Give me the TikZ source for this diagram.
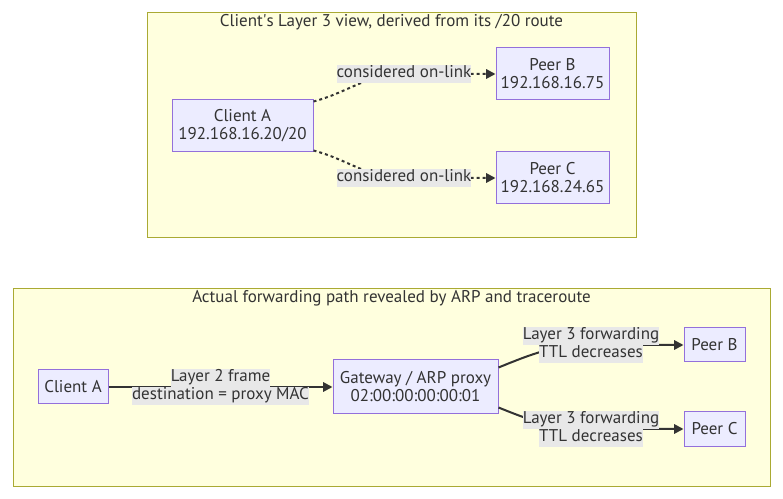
\documentclass[tikz,border=0pt]{standalone}
\usepackage{fontspec}
\setmainfont{PT Sans}
\usetikzlibrary{arrows.meta}

\definecolor{clusterfill}{HTML}{FFFFDE}
\definecolor{clusterline}{HTML}{AAAA33}
\definecolor{boxfill}{HTML}{ECECFF}
\definecolor{boxline}{HTML}{9370DB}
\definecolor{inktext}{HTML}{333333}
\definecolor{lblbg}{HTML}{E8E8E8}

\newcommand{\lblline}[1]{{\setlength{\fboxsep}{0pt}\colorbox{lblbg}{\strut #1}}}

\tikzset{
    hostbox/.style={draw=boxline, fill=boxfill, line width=0.75pt, inner sep=0pt,
        align=center, text=inktext},
    groupbox/.style={draw=clusterline, fill=clusterfill, line width=0.75pt},
    grouptitle/.style={text=inktext, anchor=center},
    edgelbl/.style={inner sep=0pt, align=center, text=inktext},
    fwd/.style={draw=inktext, line width=1.5pt, -{Triangle[length=7pt,width=7pt]}},
    onlink/.style={fwd, dash pattern=on 2.25pt off 2.25pt},
}

\begin{document}
\begin{tikzpicture}[x=0.75pt,y=-0.75pt,font=\fontsize{12.75}{13.5}\selectfont]
        \useasboundingbox (0,0) rectangle (783,499);
        %% what the client believes
        \draw[groupbox] (147,13) rectangle (636,238);
        \node[grouptitle] (viewtitle) at (391.5,22) {Client\textquotesingle s Layer 3 view, derived from its /20 route};
        \node[hostbox, minimum width=105.75pt, minimum height=39pt] (clientA) at (242.5,126) {Client A\\192.168.16.20/20};
        \node[hostbox, minimum width=84.75pt, minimum height=39pt] (peerB) at (552.5,74) {Peer B\\192.168.16.75};
        \node[hostbox, minimum width=84.75pt, minimum height=39pt] (peerC) at (552.5,178) {Peer C\\192.168.24.65};
        \coordinate (onB) at (404,74);
        \coordinate (onC) at (404,178);
        \draw[onlink] ([yshift=-1.5pt]clientA.north east) to[out=15,in=180] (onB) -- (peerB);
        \draw[onlink] ([yshift=1.5pt]clientA.south east) to[out=-15,in=180] (onC) -- (peerC);
        \foreach \c in {onB,onC}
            \node[edgelbl] (\c lbl) at (\c) {\lblline{considered on-link}};
        %% what ARP and traceroute show
        \draw[groupbox] (13,289) rectangle (770,486);
        \node[grouptitle] (pathtitle) at (391.5,298) {Actual forwarding path revealed by ARP and traceroute};
        \node[hostbox, minimum width=52.5pt, minimum height=25.5pt] (hostA) at (73,387) {Client A};
        \node[hostbox, minimum width=123.75pt, minimum height=40.5pt] (gateway) at (415.5,387) {Gateway / ARP proxy\\02:00:00:00:00:01};
        \node[hostbox, minimum width=45.75pt, minimum height=25.5pt] (hopB) at (714.5,345) {Peer B};
        \node[hostbox, minimum width=45.75pt, minimum height=25.5pt] (hopC) at (714.5,429) {Peer C};
        \draw[fwd] (hostA) -- (gateway)
            node[edgelbl, midway] (frame) {\lblline{Layer 2 frame}\\\lblline{destination = proxy MAC}};
        \coordinate (l3B) at (591,345);
        \coordinate (l3C) at (591,429);
        \draw[fwd] ([yshift=-6pt]gateway.north east) to[out=22,in=180] (l3B) -- (hopB);
        \draw[fwd] ([yshift=5.25pt]gateway.south east) to[out=-22,in=180] (l3C) -- (hopC);
        \foreach \c in {l3B,l3C}
            \node[edgelbl] (\c lbl) at (\c) {\lblline{Layer 3 forwarding}\\\lblline{TTL decreases}};
\end{tikzpicture}
\end{document}
